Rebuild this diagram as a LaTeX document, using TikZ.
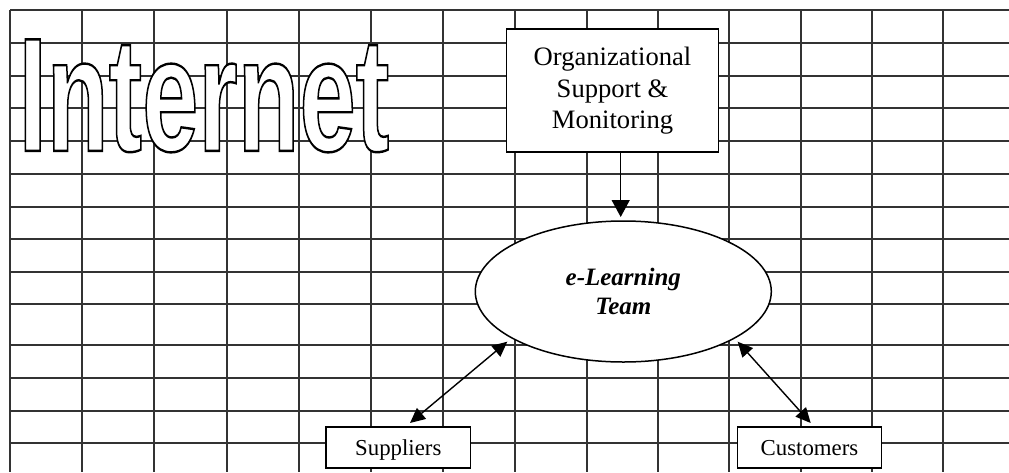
\documentclass[tikz,border=0pt]{standalone}
\usepackage{fontspec}
\setmainfont{Liberation Serif}
\newfontfamily\inetfont{Liberation Sans}
\usetikzlibrary{shapes.geometric,arrows.meta,calc}
\newcommand\inettext{\scalebox{0.624}[1]{\fontsize{162}{162}\selectfont\inetfont\bfseries Internet}}
\tikzset{
  gridline/.style={draw=black!80, line width=1.5pt},
  boxnode/.style={draw=black, fill=white, line width=1.5pt, rectangle, inner sep=0pt, align=center},
  smallbox/.style={boxnode, minimum height=41pt, text height=18pt, text depth=3pt,
                   font=\fontsize{22.8}{27}\selectfont},
  ellnode/.style={draw=black, fill=white, line width=1.5pt, ellipse, inner sep=0pt, align=center},
  conn/.style={draw=black, line width=1.4pt},
  bigtip/.style={-{Triangle[length=17pt,width=18pt]}},
  twotip/.style={{Triangle[length=15pt,width=14pt]}-{Triangle[length=15pt,width=14pt]}}
}
\begin{document}
\begin{tikzpicture}[x=1pt,y=-1pt]
\useasboundingbox (0,0) rectangle (1009,472);
% grid
\foreach \x in {10,82,154,227,299,371,443,515,587,658,729,801,872,943}
  \draw[gridline] (\x,10) -- (\x,472);
\foreach \y in {10,43,76,108,141,174,207,239,272,304,345,378,411,443}
  \draw[gridline] (10,\y) -- (1009,\y);
% outlined Internet (white fill, black stroke)
\node[anchor=base west, inner sep=0pt] (inet) at (18.5,150.8)
  {\color{white}\special{pdf:literal direct 0 G 2.4 w 2 Tr}\inettext\special{pdf:literal direct 0 Tr 1 w}};
% nodes
\node[boxnode, minimum width=211.6pt, minimum height=123pt,
      font=\fontsize{26.6}{31.7}\selectfont] (org) at (612.5,90.7)
      {Organizational\\Support \&\\Monitoring};
\node[ellnode, minimum width=296pt, minimum height=141pt,
      font=\fontsize{25}{28.5}\selectfont\bfseries\itshape] (team) at (623.3,291.5)
      {e-Learning\\Team};
\node[smallbox, minimum width=144.7pt] (sup) at (398.3,447.5) {Suppliers};
\node[smallbox, minimum width=144.4pt] (cust) at (809.5,447.5) {Customers};
% connectors
\coordinate (oa) at (620.7,152.3);
\coordinate (oe) at (620.7,217);
\draw[conn,bigtip] (oa) -- (oe);
\coordinate (s1) at (410,423);
\coordinate (s2) at (507.3,341.7);
\draw[conn,twotip] (s1) -- (s2);
\coordinate (c1) at (737.7,341.7);
\coordinate (c2) at (810.7,423);
\draw[conn,twotip] (c1) -- (c2);
\end{tikzpicture}
\end{document}
